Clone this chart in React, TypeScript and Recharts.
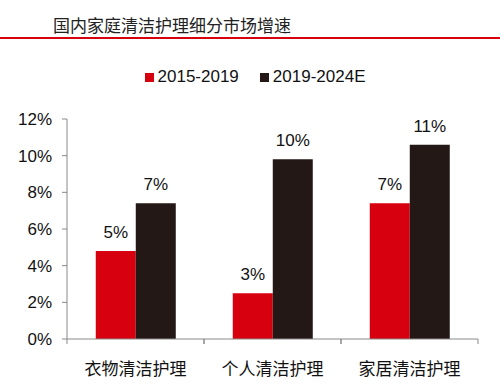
import { Bar, BarChart, LabelList, Legend, XAxis, YAxis } from "recharts";

const categories = ["衣物清洁护理", "个人清洁护理", "家居清洁护理"];
const growth2015to2019 = [4.8, 2.5, 7.4];
const growth2019to2024E = [7.4, 9.8, 10.6];
const yTicks = [0, 2, 4, 6, 8, 10, 12];
const seriesNames = ["2015-2019", "2019-2024E"];

const RED = "#d7000f";
const DARK = "#231815";
const AXIS = "#898989";
const FONT = "'Liberation Sans', Arial, 'Noto Sans CJK SC', sans-serif";

const data = categories.map((name, i) => ({
  name,
  early: growth2015to2019[i],
  late: growth2019to2024E[i],
}));

function pct(value: number): string {
  return `${Math.round(value)}%`;
}

function CategoryTick(props: any) {
  const { x, y, payload } = props;
  const half = payload.offset ?? 0;
  return (
    <g>
      <line x1={x - half} x2={x - half} y1={y} y2={y + 5} stroke={AXIS} />
      <line x1={x + half} x2={x + half} y1={y} y2={y + 5} stroke={AXIS} />
      <text
        x={x}
        y={y + 28}
        textAnchor="middle"
        dominantBaseline="central"
        fill="#111"
        fontSize={17}
        fontFamily="'Noto Sans CJK SC', sans-serif"
      >
        {payload.value}
      </text>
    </g>
  );
}

function LegendContent(props: any) {
  const items = props.payload ?? [];
  return (
    <div
      style={{
        display: "flex",
        justifyContent: "center",
        gap: 21,
        paddingLeft: 10,
        fontFamily: FONT,
        fontSize: 17,
        lineHeight: "22px",
        color: "#111",
      }}
    >
      {items.map((item: any) => (
        <span key={item.value} style={{ display: "flex", alignItems: "center" }}>
          <span style={{ width: 9, height: 9, background: item.color, marginRight: 4 }} />
          {item.value}
        </span>
      ))}
    </div>
  );
}

export default function App() {
  return (
    <div
      style={{
        position: "absolute",
        left: 0,
        top: 0,
        width: 500,
        height: 391,
        background: "#fff",
        fontFamily: FONT,
      }}
    >
      <div
        style={{
          position: "absolute",
          left: 53,
          top: 13,
          lineHeight: "24px",
          fontSize: 17,
          color: "#222",
          fontFamily: "'Noto Sans CJK SC', sans-serif",
        }}
      >
        国内家庭清洁护理细分市场增速
      </div>
      <div style={{ position: "absolute", left: 0, top: 37, width: 500, height: 2, background: RED }} />
      <BarChart
        width={500}
        height={391}
        data={data}
        margin={{ top: 97, right: 22, left: 7, bottom: 22 }}
        barCategoryGap="21%"
        barGap={0}
      >
        <Legend
          content={<LegendContent />}
          verticalAlign="top"
          wrapperStyle={{ top: 66, left: 0, width: 500 }}
        />
        <XAxis
          dataKey="name"
          height={30}
          tickSize={0}
          tickMargin={0}
          tickLine={false}
          axisLine={{ stroke: AXIS }}
          tick={<CategoryTick />}
          interval={0}
        />
        <YAxis
          width={60}
          domain={[0, 12]}
          ticks={yTicks}
          tickFormatter={(v) => `${v}%`}
          tickSize={5}
          tickMargin={10}
          axisLine={{ stroke: AXIS }}
          tickLine={{ stroke: AXIS }}
          tick={{ fill: "#111", fontSize: 17, fontFamily: FONT }}
        />
        <Bar dataKey="early" name={seriesNames[0]} fill={RED} isAnimationActive={false}>
          <LabelList
            dataKey="early"
            position="top"
            offset={13}
            formatter={(v: any) => pct(Number(v))}
            style={{ fill: "#111", fontSize: 17, fontFamily: FONT }}
          />
        </Bar>
        <Bar dataKey="late" name={seriesNames[1]} fill={DARK} isAnimationActive={false}>
          <LabelList
            dataKey="late"
            position="top"
            offset={13}
            formatter={(v: any) => pct(Number(v))}
            style={{ fill: "#111", fontSize: 17, fontFamily: FONT }}
          />
        </Bar>
      </BarChart>
    </div>
  );
}
